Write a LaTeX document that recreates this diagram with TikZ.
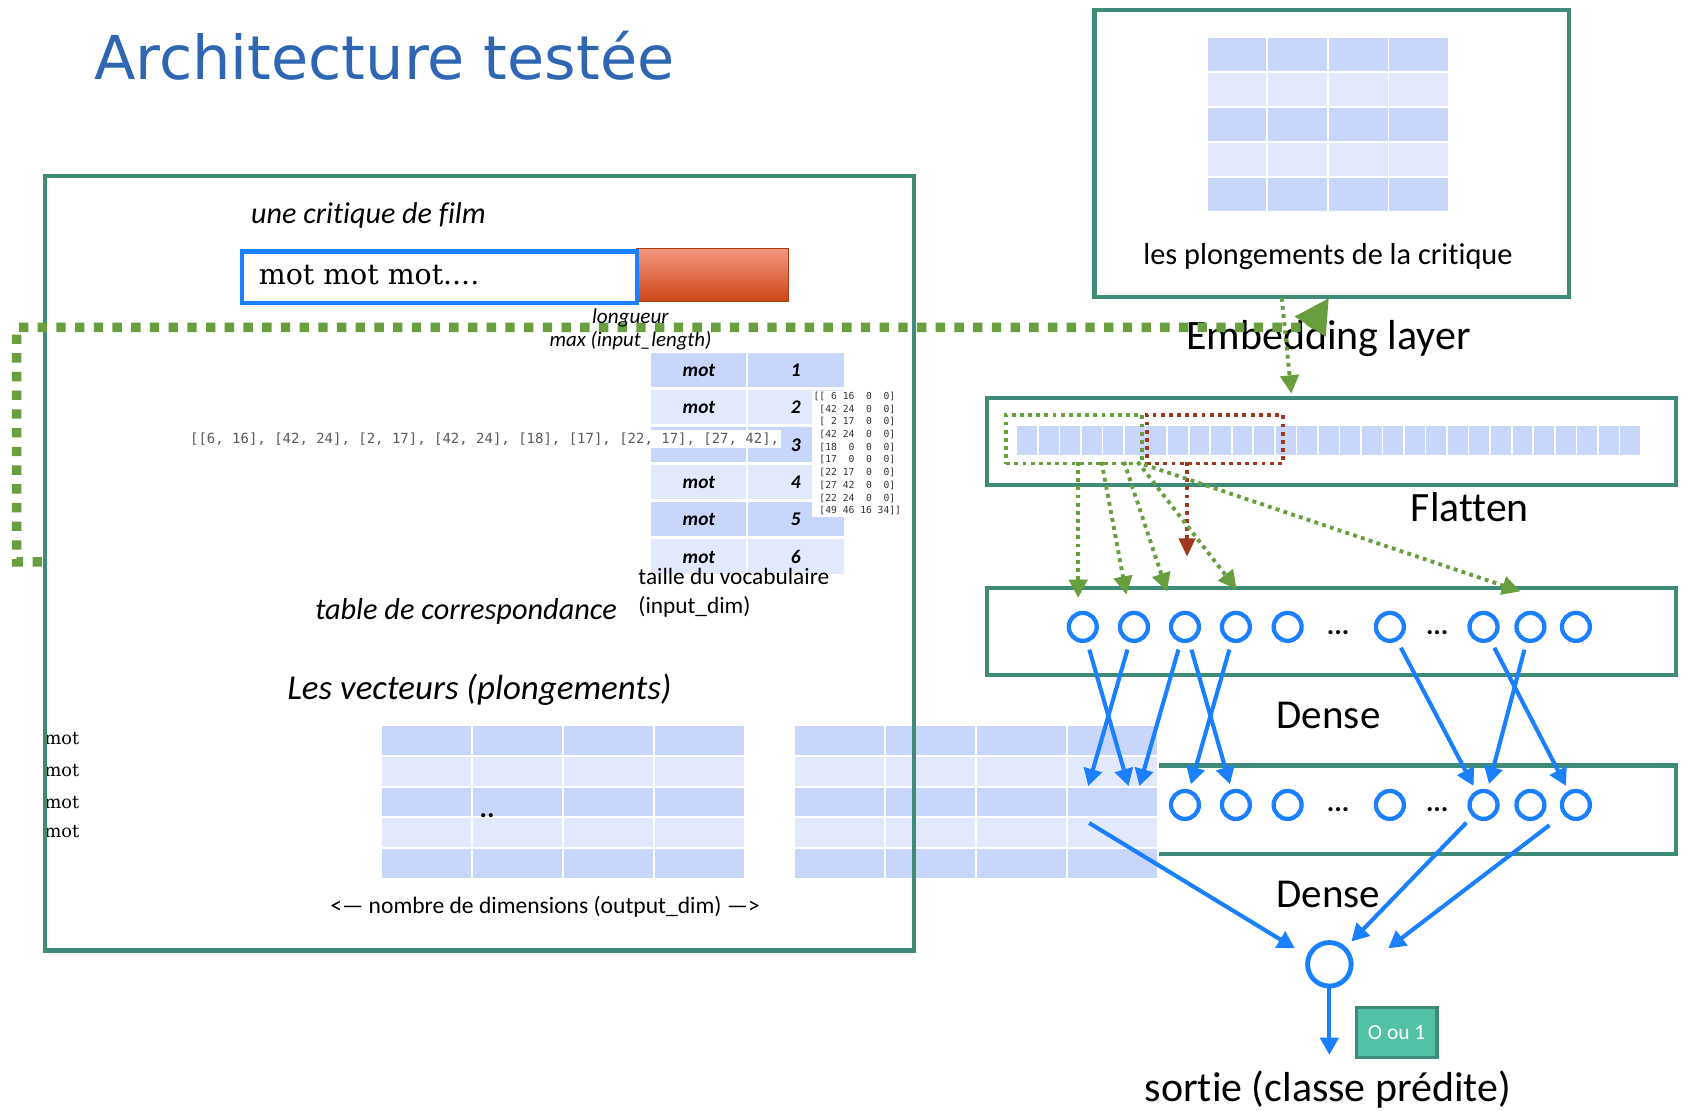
\documentclass[tikz,border=0pt]{standalone}
\usepackage{fontspec}
\setmainfont{Carlito}[Ligatures={TeX,NoCommon}]
\newfontfamily\titlefont{DejaVu Sans}
\newfontfamily\slabfont{DejaVu Serif}
\newfontfamily\codefont{DejaVu Sans Mono}
\usetikzlibrary{arrows.meta,calc}
\definecolor{teal2}{RGB}{62,140,120}
\definecolor{cellD}{RGB}{201,214,252}
\definecolor{cellL}{RGB}{227,233,253}
\definecolor{nblue}{RGB}{26,128,255}
\definecolor{dgreen}{RGB}{104,158,62}
\definecolor{dred}{RGB}{160,56,30}
\definecolor{tblue}{RGB}{46,102,180}
\definecolor{redtop}{RGB}{244,150,128}
\definecolor{redbot}{RGB}{205,70,22}
\definecolor{okfill}{RGB}{82,193,168}
\definecolor{codegray}{RGB}{90,90,90}
\newcommand{\setfs}[1]{\fontsize{#1}{#1}\selectfont}
\begin{document}
\begin{tikzpicture}[x=1pt,y=-1pt,
  panel/.style={draw=teal2,line width=4pt,inner sep=0pt,anchor=north west},
  lbl/.style={inner sep=0pt,anchor=base},
  lblw/.style={inner sep=0pt,anchor=base west},
  neuron/.style={circle,draw=nblue,line width=4pt,fill=white,minimum size=26pt,inner sep=0pt},
  ghost/.style={circle,minimum size=26pt,inner sep=0pt},
  barrow/.style={draw=nblue,line width=3.8pt,-{Triangle[length=16pt,width=17pt]},shorten <=7pt,shorten >=5pt},
  bigdots/.style={draw=dgreen,line width=8.7pt,dash pattern=on 8.7pt off 8.7pt},
  gdots/.style={draw=dgreen,line width=3.6pt,dash pattern=on 3.6pt off 4pt},
  rdots/.style={draw=dred,line width=3.6pt,dash pattern=on 3.6pt off 4pt},
  garrow/.style={gdots,-{Triangle[length=17pt,width=17pt]}},
  rarrow/.style={rdots,-{Triangle[length=17pt,width=15pt]}},
]
\path[use as bounding box,fill=white] (0,0) rectangle (1568,1033);

% title
\node[lblw,text=tblue,font=\titlefont\setfs{56.3}] (title) at (87.4,74.4) {Architecture testée};

% ---------- top right box ----------
\node[panel,minimum width=441pt,minimum height=267pt] (topbox) at (1016,7) {};
\foreach \r in {0,...,4}{\ifodd\r\relax\def\cc{cellL}\else\def\cc{cellD}\fi
  \foreach \c in {0,...,3}{\fill[\cc] (1123.3+\c*56.3,35+\r*32.7) rectangle ++(54.5,30.7);}}
\node[lbl,font=\setfs{28.2}] (embcap) at (1235,246) {les plongements de la critique};
\node[lbl,font=\setfs{39}] (emblbl) at (1235.5,325.5) {Embedding layer};

% ---------- flatten ----------
\node[panel,minimum width=641pt,minimum height=81pt] (flatbox) at (916,368) {};
\foreach \i in {0,...,28}{\fill[cellD] (946+\i*20.03,396) rectangle ++(18.5,27);}
\node[gdots,anchor=north west,inner sep=0pt,minimum width=126pt,minimum height=45.5pt] (gsel) at (934,383.8) {};
\node[rdots,anchor=north west,inner sep=0pt,minimum width=126pt,minimum height=45.5pt] (rsel) at (1065,383.8) {};
\node[lbl,font=\setfs{38.8}] (flatlbl) at (1367,485.2) {Flatten};

% ---------- dense boxes ----------
\node[panel,minimum width=641pt,minimum height=81pt] (dense1) at (916,545) {};
\node[panel,minimum width=641pt,minimum height=82pt] (dense2) at (916,710) {};
\node[lbl,font=\setfs{38.2}] (denselbl1) at (1235.6,677.3) {Dense};
\node[lbl,font=\setfs{38.2}] (denselbl2) at (1235.3,843.8) {Dense};

% ---------- left: input ----------
\node[lblw,font=\itshape\setfs{28}] (critique) at (233.4,207.7) {une critique de film};
\node[anchor=north west,inner sep=0pt,minimum width=140.9pt,minimum height=49pt,top color=redtop,bottom color=redbot,draw=redbot!85!black,line width=0.6pt] (redbar) at (591.9,231) {};
\node[anchor=north west,inner sep=0pt,draw=nblue,fill=white,line width=4pt,minimum width=367.7pt,minimum height=48pt] (inbox) at (222.8,232) {};
\node[lblw,font=\slabfont\setfs{26.4}] (intext) at (240.6,265) {mot mot mot....};
\node[lblw,font=\itshape\setfs{19.4}] (maxlen) at (511,322.4) {max (input\_length)};

% ---------- lookup table ----------
\foreach \i in {0,...,5}{\ifodd\i\relax\def\cc{cellL}\else\def\cc{cellD}\fi
  \fill[\cc] (605.4,328+\i*34.7) rectangle ++(88.6,32);
  \fill[\cc] (696,328+\i*34.7) rectangle ++(89,32);}
\foreach \i/\n in {0/1,1/2,3/4,4/5,5/6}{\node[lbl,font=\bfseries\itshape\setfs{18}] (mot\n) at (650,350.3+\i*34.7) {mot};}
\foreach \i/\n in {0/1,1/2,2/3,3/4,4/5,5/6}{\node[lbl,font=\bfseries\itshape\setfs{18}] (num\n) at (740,350.3+\i*34.7) {\n};}
\node[lblw,fill=white,inner xsep=2pt,inner ysep=2.5pt,text=codegray,font=\codefont\setfs{13}] (seq) at (174.6,412) {[[6, 16], [42, 24], [2, 17], [42, 24], [18], [17], [22, 17], [27, 42],};
\node[anchor=north west,fill=white,inner sep=1.5pt,align=left,text=black!80,font=\codefont\fontsize{9}{11.8}\selectfont] (mat) at (755,363) {%
\null[[~6~16~~0~~0]\\
\null~[42~24~~0~~0]\\
\null~[~2~17~~0~~0]\\
\null~[42~24~~0~~0]\\
\null~[18~~0~~0~~0]\\
\null~[17~~0~~0~~0]\\
\null~[22~17~~0~~0]\\
\null~[27~42~~0~~0]\\
\null~[22~24~~0~~0]\\
\null~[49~46~16~34]]};
\node[lblw,font=\setfs{21.7}] (taille) at (593.6,544) {taille du vocabulaire};
\node[lblw,font=\setfs{21.7}] (inputdim) at (593.6,570.4) {(input\_dim)};
\node[lblw,font=\itshape\setfs{28.2}] (tablecor) at (293,576) {table de correspondance};
\node[lblw,font=\itshape\setfs{32.5}] (vecteurs) at (267,651) {Les vecteurs (plongements)};

% ---------- embedding vectors ----------
\foreach \y/\n in {692.8/1,721.7/2,751.7/3,778.7/4}{\node[lblw,font=\slabfont\setfs{16.5}] (vmot\n) at (41.3,\y) {mot};}
\fill[white] (739.5,675.2) rectangle (1077.8,818.4);
\foreach \r in {0,...,4}{\ifodd\r\relax\def\cc{cellL}\else\def\cc{cellD}\fi
  \foreach \c in {0,...,3}{
    \fill[\cc] (355.2+\c*84.6,675.2+\r*28.65) rectangle ++(82.7,26.7);
    \fill[\cc] (739.5+\c*84.6,675.2+\r*28.65) rectangle ++(82.7,26.7);}}
\node[lbl,font=\bfseries\setfs{26}] (dots) at (453,760) {..};
\node[lbl,font=\setfs{21.9}] (outdim) at (507,849.4) {<— nombre de dimensions (output\_dim) —>};

% main box
\node[panel,minimum width=808pt,minimum height=720pt] (mainbox) at (40,162) {};

% ---------- neurons ----------
\foreach \nm/\x in {n1/1007,n2/1054.6,n3/1102,n4/1149.4,n5/1197.5,n6/1292.6,n7/1379.7,n8/1423.3,n9/1465.6}
  {\node[neuron] (\nm) at (\x,583) {};}
\node[ghost] (m1) at (1007,748.6) {};
\node[ghost] (m2) at (1054.6,748.6) {};
\foreach \nm/\x in {m3/1102,m4/1149.4,m5/1197.5,m6/1292.6,m7/1379.7,m8/1423.3,m9/1465.6}
  {\node[neuron] (\nm) at (\x,748.6) {};}
\foreach \x/\y/\n in {1244.4/590/a,1336.6/590/b,1244.4/755/c,1336.6/755/d}
  {\node[lbl,font=\bfseries\setfs{26}] (ell\n) at (\x,\y) {...};}
\node[neuron,line width=4.5pt,minimum size=40.5pt] (out) at (1236.3,896.8) {};
\coordinate (outL) at (1204.3,882);
\coordinate (outR) at (1291,882);
\coordinate (outTip) at (1236.3,981);

\draw[barrow] (n1) -- (m2);
\draw[barrow] (n2) -- (m1);
\draw[barrow] (n3) -- (m2);
\draw[barrow] (n3) -- (m4);
\draw[barrow] (n4) -- (m3);
\draw[barrow] (n6) -- (m7);
\draw[barrow] (n8) -- (m7);
\draw[barrow] (n7) -- (m9);
\draw[barrow,shorten <=7pt,shorten >=0pt] (m1.south) -- (outL);
\draw[barrow,shorten <=8pt,shorten >=7pt] (m7) -- (out);
\draw[barrow,shorten <=16pt,shorten >=0pt] (m9) -- (outR);
\draw[barrow,shorten <=0pt,shorten >=0pt] (out) -- (outTip);

\node[fill=okfill,draw=teal2,line width=3pt,minimum width=75pt,minimum height=46pt,inner sep=0pt,text=white,font=\setfs{20}] (ok) at (1298.9,960.3) {O ou 1};
\node[lbl,font=\setfs{39}] (sortie) at (1235,1024.5) {sortie (classe prédite)};

% ---------- dotted connectors ----------
\coordinate (embA) at (1192,277);
\coordinate (embB) at (1201,366);
\draw[garrow] (embA) -- (embB);
\coordinate (loopS) at (39,522.5);
\coordinate (loopE) at (1236,277);
\draw[bigdots,-{Triangle[length=32pt,width=32pt]}] (loopS) -- (15.5,522.5) -- (15.5,304.5) -- (1218,304.5) -- (loopE);
\node[lbl,font=\itshape\setfs{19.7}] (longueur) at (586.3,300.7) {longueur};

\coordinate (g1s) at (1002.7,429.5); \coordinate (g1e) at (1002.7,556);
\coordinate (g2s) at (1024.5,429.5); \coordinate (g2e) at (1047.5,553);
\coordinate (g3s) at (1045.4,429.5); \coordinate (g3e) at (1085.3,550);
\coordinate (g4s) at (1058,429.5);   \coordinate (g4e) at (1150,548);
\coordinate (g5s) at (1064,432);     \coordinate (g5e) at (1414,550);
\coordinate (r1s) at (1104,429.5);   \coordinate (r1e) at (1104,517.7);
\draw[rarrow] (r1s) -- (r1e);
\draw[garrow] (g1s) -- (g1e);
\draw[garrow] (g2s) -- (g2e);
\draw[garrow] (g3s) -- (g3e);
\draw[garrow] (g4s) -- (g4e);
\draw[garrow] (g5s) -- (g5e);
\end{tikzpicture}
\end{document}
